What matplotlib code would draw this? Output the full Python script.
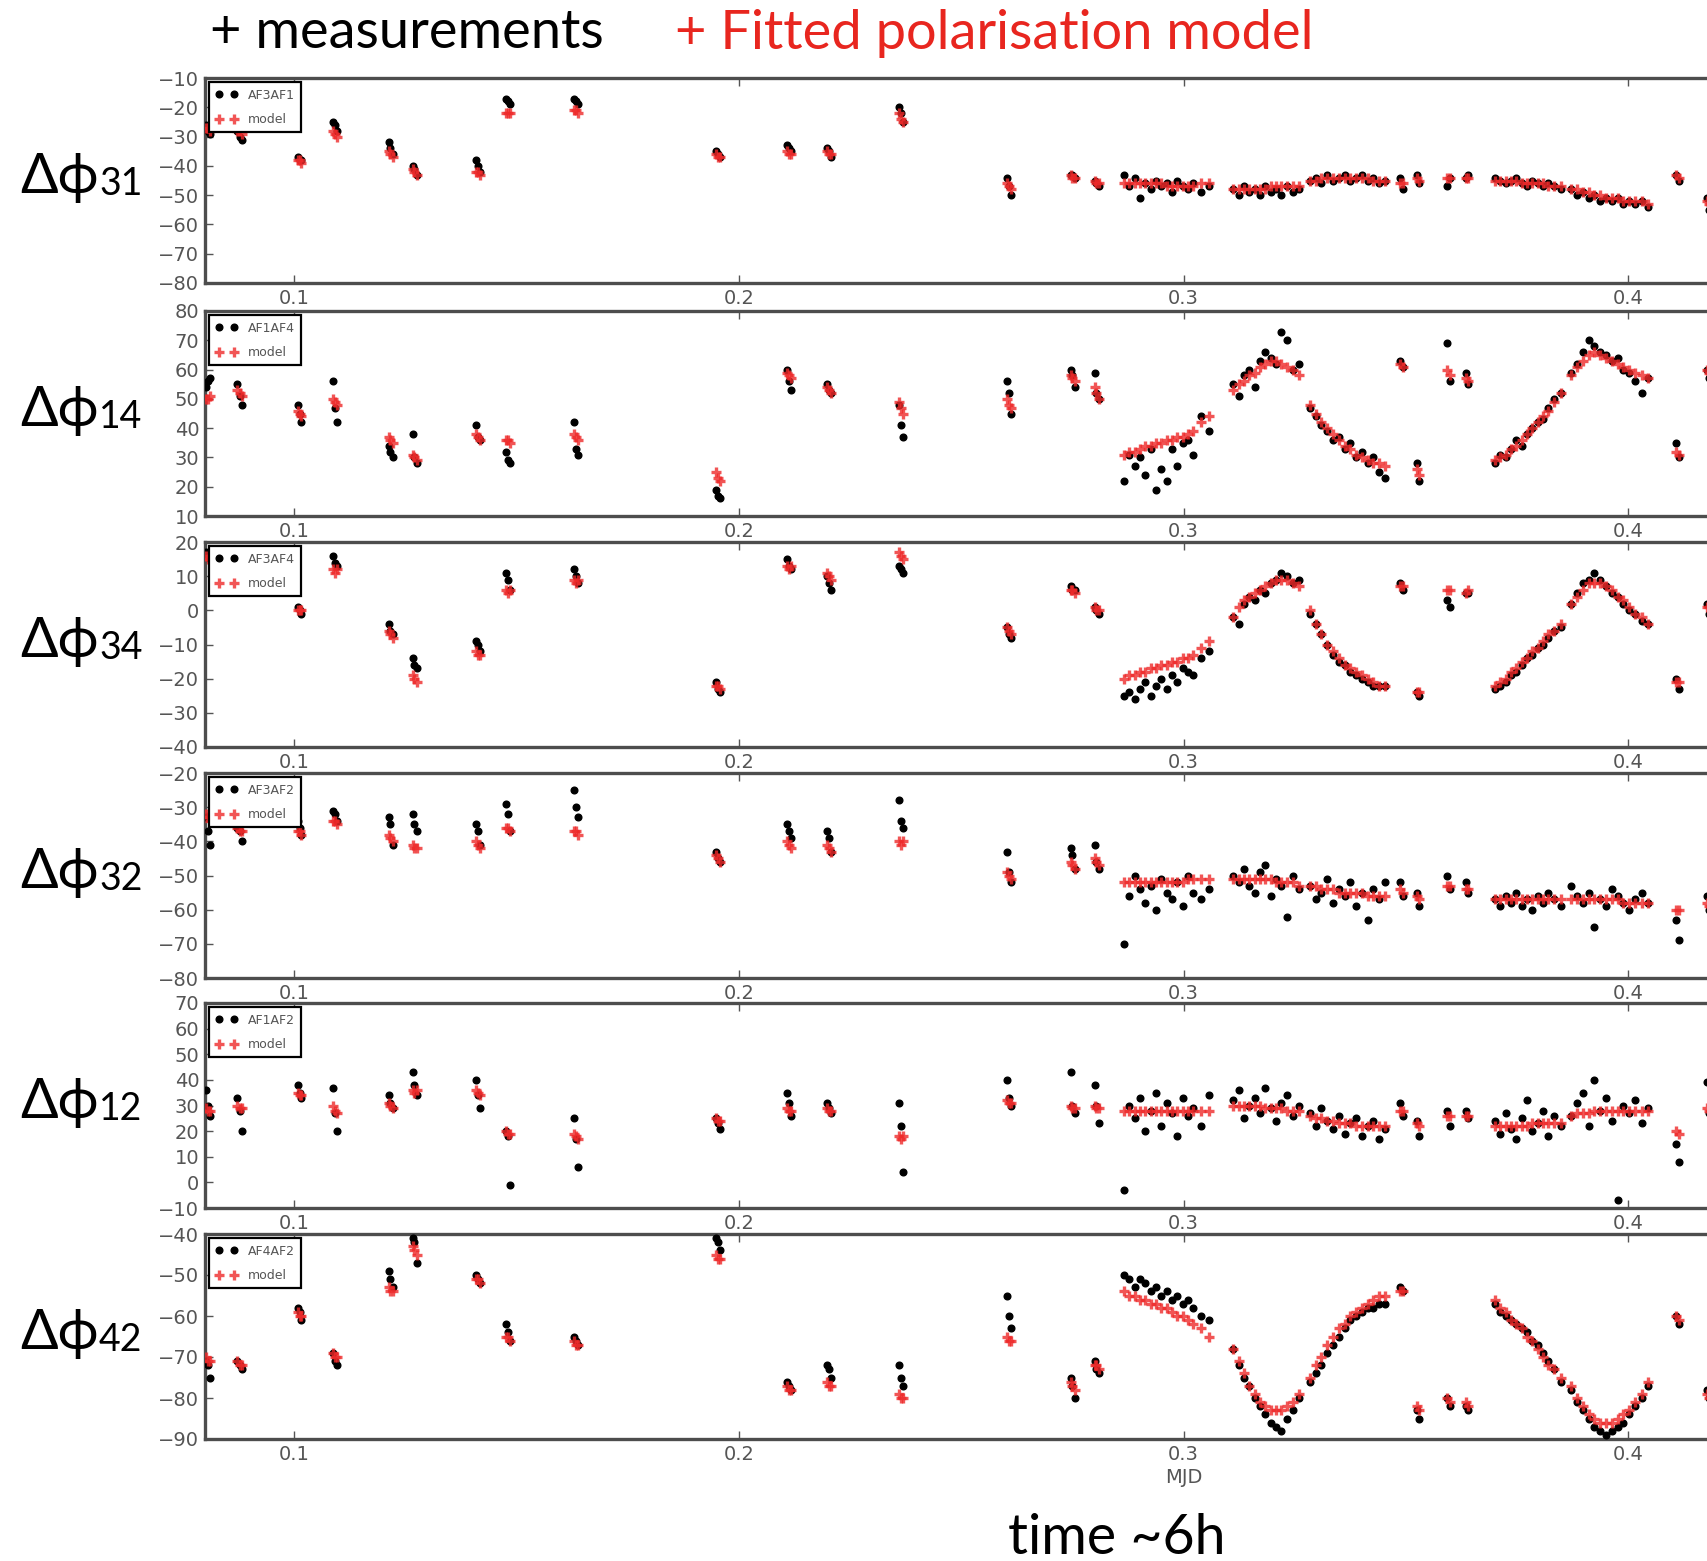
import matplotlib.pyplot as plt

# observation times (MJD fraction) - same epochs for every baseline
mjd = [0.0802, 0.0806, 0.0810, 0.0872, 0.0877, 0.0882, 0.1008, 0.1012, 0.1016, 0.1086, 0.1091, 0.1096,
       0.1212, 0.1216, 0.1221, 0.1266, 0.1270, 0.1275, 0.1408, 0.1412, 0.1417, 0.1477, 0.1481, 0.1486,
       0.1629, 0.1633, 0.1638, 0.1948, 0.1952, 0.1957, 0.2108, 0.2112, 0.2117, 0.2198, 0.2202, 0.2207,
       0.2360, 0.2364, 0.2369, 0.2603, 0.2607, 0.2612, 0.2746, 0.2750, 0.2755, 0.2800, 0.2804, 0.2809,
       0.2866, 0.2878, 0.2890, 0.2902, 0.2914, 0.2926, 0.2938, 0.2950, 0.2962, 0.2974, 0.2986, 0.2998,
       0.3010, 0.3022, 0.3040, 0.3058,
       0.3112, 0.3124, 0.3136, 0.3148, 0.3160, 0.3172, 0.3184, 0.3196, 0.3208, 0.3220, 0.3232, 0.3246, 0.3260,
       0.3284, 0.3297, 0.3310, 0.3323, 0.3336, 0.3349, 0.3362, 0.3375, 0.3388, 0.3401, 0.3414, 0.3427,
       0.3440, 0.3452,
       0.3487, 0.3493, 0.3524, 0.3530, 0.3592, 0.3598, 0.3634, 0.3640,
       0.3700, 0.3712, 0.3724, 0.3736, 0.3748, 0.3760, 0.3772, 0.3784, 0.3796, 0.3808, 0.3820, 0.3834, 0.3848,
       0.3872, 0.3885, 0.3898, 0.3911, 0.3924, 0.3937, 0.3950, 0.3963, 0.3976, 0.3989, 0.4002, 0.4015,
       0.4030, 0.4045,
       0.4108, 0.4114, 0.4176, 0.4182]

# dphi_31 (AF3AF1)
meas_31 = [-26, -28, -29, -28, -30, -31, -37, -38, -38, -25, -26, -28, -32, -34, -36, -40, -41, -43, -38, -40, -42, -17, -18, -19,
           -17, -18, -19, -35, -36, -37, -33, -34, -35, -34, -35, -37, -20, -22, -25, -44, -47, -50, -43, -43, -44, -45, -46, -47,
           -43, -47, -44, -51, -46, -48, -45, -47, -46, -49, -45, -47, -48, -46, -49, -47,
           -48, -50, -47, -49, -48, -50, -47, -49, -48, -50, -47, -49, -48,
           -45, -44, -46, -43, -45, -44, -43, -45, -44, -43, -45, -44, -46, -45,
           -44, -48, -43, -46, -47, -44, -44, -43,
           -44, -45, -46, -45, -44, -46, -47, -45, -46, -47, -46, -47, -48,
           -48, -50, -49, -51, -50, -52, -51, -52, -51, -53, -52, -53, -52, -54,
           -43, -45, -51, -55]
model_31 = [-27, -27, -28, -28, -28, -29, -38, -38, -39, -28, -29, -30, -35, -36, -37, -41, -42, -43, -42, -42, -43, -22, -22, -22,
            -21, -21, -22, -36, -37, -37, -35, -36, -36, -35, -36, -36, -22, -24, -25, -46, -47, -48, -43, -44, -44, -45, -46, -46,
            -46, -46, -46, -46, -46, -46, -46, -46, -47, -47, -47, -47, -47, -47, -46, -46,
            -48, -48, -48, -48, -48, -48, -48, -47, -47, -47, -47, -47, -47,
            -45, -45, -44, -44, -44, -44, -44, -44, -44, -44, -44, -45, -45, -45,
            -46, -46, -44, -45, -44, -44, -44, -44,
            -45, -45, -45, -45, -45, -46, -46, -46, -46, -46, -47, -47, -47,
            -48, -48, -49, -49, -50, -50, -51, -51, -51, -52, -52, -52, -52, -53,
            -43, -44, -52, -53]

# dphi_14 (AF1AF4)
meas_14 = [54, 56, 57, 55, 51, 48, 48, 45, 42, 56, 47, 42, 34, 32, 30, 38, 30, 28, 41, 37, 36, 32, 29, 28,
           42, 33, 31, 19, 17, 16, 60, 56, 53, 55, 53, 52, 48, 41, 37, 56, 52, 45, 60, 58, 54, 59, 52, 50,
           22, 31, 27, 30, 24, 33, 19, 26, 22, 33, 27, 35, 36, 31, 44, 39,
           55, 51, 58, 60, 54, 63, 66, 64, 62, 73, 70, 60, 62,
           47, 44, 41, 39, 36, 37, 33, 35, 30, 32, 28, 30, 25, 23,
           63, 61, 28, 22, 69, 56, 59, 55,
           28, 31, 30, 33, 36, 34, 38, 40, 42, 43, 47, 50, 52,
           59, 62, 66, 70, 68, 66, 65, 63, 64, 60, 59, 56, 52, 57,
           35, 30, 60, 57]
model_14 = [50, 50, 51, 53, 52, 51, 46, 45, 44, 50, 49, 48, 37, 36, 35, 31, 30, 29, 38, 37, 36, 36, 36, 35,
            38, 37, 36, 25, 23, 22, 59, 58, 57, 54, 53, 52, 49, 47, 45, 50, 48, 47, 58, 57, 56, 54, 52, 50,
            31, 32, 32, 33, 34, 34, 35, 35, 36, 36, 37, 37, 38, 39, 42, 44,
            53, 55, 56, 58, 59, 61, 62, 63, 63, 62, 61, 60, 58,
            48, 45, 42, 40, 38, 36, 34, 33, 31, 30, 29, 28, 28, 27,
            62, 61, 26, 24, 60, 58, 57, 56,
            29, 30, 31, 33, 34, 36, 38, 40, 42, 44, 46, 49, 52,
            58, 61, 63, 65, 66, 65, 64, 63, 62, 61, 60, 59, 58, 57,
            32, 31, 60, 59]

# dphi_34 (AF3AF4)
meas_34 = [17, 16, 15, 13, 12, 11, 1, 0, -1, 16, 14, 13, -4, -6, -7, -14, -16, -17, -9, -10, -12, 11, 9, 6,
           12, 10, 8, -21, -23, -24, 15, 13, 12, 10, 8, 6, 13, 12, 11, -5, -7, -8, 7, 6, 6, 1, 0, -1,
           -25, -24, -26, -23, -21, -25, -22, -20, -23, -19, -21, -17, -18, -19, -14, -12,
           -2, -4, 2, 4, 3, 6, 5, 8, 9, 11, 10, 8, 9,
           -1, -4, -7, -10, -13, -15, -16, -18, -19, -20, -21, -22, -22, -22,
           8, 6, -24, -25, 3, 1, 5, 5,
           -23, -22, -21, -19, -18, -16, -14, -13, -11, -10, -8, -6, -5,
           2, 5, 8, 9, 11, 9, 7, 5, 4, 2, 0, -1, -3, -4,
           -20, -23, 2, -1]
model_34 = [16, 15, 16, 12, 12, 12, 0, 0, 0, 12, 11, 12, -6, -7, -8, -19, -20, -21, -12, -13, -13, 6, 5, 6,
            9, 8, 9, -22, -22, -23, 13, 12, 13, 11, 10, 9, 17, 16, 15, -5, -6, -7, 6, 6, 5, 1, 0, 0,
            -20, -19, -19, -18, -18, -17, -17, -16, -16, -15, -15, -14, -14, -13, -11, -9,
            -2, 1, 3, 4, 5, 6, 7, 8, 9, 9, 9, 8, 7,
            0, -4, -7, -10, -12, -14, -16, -17, -18, -19, -20, -21, -22, -22,
            7, 7, -24, -24, 6, 6, 5, 6,
            -22, -21, -20, -18, -17, -15, -14, -12, -11, -9, -7, -6, -4,
            2, 4, 6, 8, 8, 8, 7, 6, 4, 3, 1, -1, -2, -4,
            -21, -21, 1, 1]

# dphi_32 (AF3AF2)
meas_32 = [-33, -37, -41, -36, -37, -40, -34, -36, -38, -31, -32, -34, -33, -35, -41, -32, -35, -37, -35, -37, -41, -29, -32, -37,
           -25, -30, -33, -43, -45, -46, -35, -37, -39, -37, -39, -43, -28, -34, -36, -43, -49, -52, -42, -44, -48, -41, -46, -48,
           -70, -56, -50, -54, -58, -53, -60, -51, -55, -57, -52, -59, -50, -55, -57, -54,
           -50, -52, -48, -53, -55, -49, -47, -56, -51, -53, -62, -50, -54,
           -53, -57, -55, -51, -58, -54, -56, -52, -59, -55, -63, -54, -57, -52,
           -52, -56, -55, -59, -50, -54, -52, -55,
           -57, -59, -56, -58, -55, -59, -57, -60, -56, -58, -55, -57, -59,
           -53, -56, -58, -55, -65, -57, -59, -54, -56, -58, -60, -57, -55, -58,
           -63, -69, -56, -60]
model_32 = [-32, -33, -34, -36, -37, -37, -37, -37, -38, -34, -34, -35, -38, -39, -40, -41, -42, -42, -40, -41, -42, -36, -36, -37,
            -37, -37, -38, -44, -45, -46, -40, -41, -42, -41, -42, -43, -40, -41, -40, -49, -50, -51, -46, -47, -48, -45, -46, -47,
            -52, -52, -52, -52, -52, -52, -52, -52, -52, -52, -52, -52, -51, -51, -51, -51,
            -51, -51, -51, -51, -51, -51, -51, -51, -52, -52, -52, -52, -53,
            -53, -53, -54, -54, -54, -55, -55, -55, -55, -55, -56, -56, -56, -56,
            -54, -55, -56, -57, -53, -53, -54, -54,
            -57, -57, -57, -57, -57, -57, -57, -57, -57, -57, -57, -57, -57,
            -57, -57, -57, -57, -57, -57, -57, -57, -57, -58, -58, -58, -58, -58,
            -60, -60, -58, -59]

# dphi_12 (AF1AF2)
meas_12 = [36, 30, 26, 33, 28, 20, 38, 35, 33, 37, 27, 20, 34, 31, 29, 43, 38, 34, 40, 34, 29, 20, 18, -1,
           25, 17, 6, 25, 23, 21, 35, 31, 26, 31, 29, 27, 31, 22, 4, 40, 33, 30, 43, 30, 27, 38, 30, 23,
           -3, 30, 25, 33, 20, 28, 35, 22, 31, 27, 18, 33, 26, 29, 22, 34,
           32, 36, 25, 30, 33, 27, 37, 29, 24, 31, 34, 26, 30,
           27, 22, 29, 24, 21, 26, 19, 23, 25, 18, 22, 24, 17, 21,
           31, 26, 24, 18, 28, 22, 28, 25,
           24, 19, 27, 21, 17, 25, 32, 20, 23, 28, 18, 26, 22,
           26, 31, 35, 22, 40, 28, 33, 24, -7, 30, 27, 32, 23, 29,
           15, 8, 39, 27]
model_12 = [29, 28, 28, 30, 29, 29, 35, 34, 34, 30, 28, 27, 31, 30, 29, 36, 35, 36, 36, 35, 34, 20, 19, 19,
            19, 18, 17, 25, 24, 24, 29, 28, 28, 29, 28, 28, 18, 17, 18, 32, 31, 31, 30, 29, 29, 30, 29, 29,
            28, 28, 28, 28, 28, 28, 28, 28, 28, 28, 28, 28, 28, 28, 28, 28,
            30, 30, 30, 30, 30, 30, 29, 29, 29, 29, 28, 28, 28,
            26, 25, 25, 24, 24, 23, 23, 23, 22, 22, 22, 22, 22, 22,
            28, 28, 23, 22, 26, 26, 26, 26,
            22, 22, 22, 22, 22, 22, 22, 23, 23, 23, 23, 23, 23,
            26, 27, 27, 27, 28, 28, 28, 28, 28, 28, 28, 28, 28, 28,
            20, 19, 29, 28]

# dphi_42 (AF4AF2)
meas_42 = [-71, -72, -75, -71, -72, -73, -58, -59, -61, -69, -71, -72, -49, -51, -53, -41, -42, -47, -50, -51, -52, -62, -64, -66,
           -65, -66, -67, -41, -42, -44, -76, -77, -78, -72, -73, -75, -72, -75, -77, -55, -60, -63, -75, -77, -80, -71, -73, -74,
           -50, -51, -53, -51, -52, -54, -53, -55, -54, -56, -55, -57, -56, -58, -60, -61,
           -68, -72, -75, -77, -80, -82, -84, -86, -87, -88, -85, -83, -80,
           -76, -74, -72, -69, -67, -65, -63, -61, -60, -59, -58, -58, -57, -57,
           -53, -54, -83, -85, -80, -82, -82, -83,
           -57, -59, -60, -61, -62, -63, -64, -66, -67, -69, -71, -73, -76,
           -78, -81, -83, -85, -87, -88, -89, -88, -87, -86, -84, -82, -80, -77,
           -60, -62, -78, -80]
model_42 = [-70, -71, -71, -71, -72, -72, -59, -60, -60, -69, -70, -70, -53, -54, -54, -43, -44, -45, -51, -51, -52, -65, -65, -66,
            -66, -67, -67, -45, -46, -46, -77, -78, -78, -76, -77, -77, -79, -80, -80, -65, -66, -66, -76, -77, -78, -72, -72, -73,
            -54, -55, -55, -56, -56, -57, -57, -58, -58, -59, -60, -60, -61, -62, -63, -65,
            -68, -71, -74, -77, -79, -81, -82, -83, -83, -83, -82, -81, -79,
            -75, -72, -70, -67, -65, -63, -62, -60, -59, -58, -57, -56, -55, -55,
            -54, -54, -82, -83, -80, -81, -81, -82,
            -56, -58, -59, -61, -62, -63, -65, -66, -68, -70, -72, -73, -75,
            -77, -80, -82, -84, -85, -86, -86, -86, -85, -84, -83, -81, -79, -76,
            -60, -61, -79, -80]

# (subscript, legend name, measured, model, y range)
panels = [
    ('31', 'AF3AF1', meas_31, model_31, (-80, -10)),
    ('14', 'AF1AF4', meas_14, model_14, (10, 80)),
    ('34', 'AF3AF4', meas_34, model_34, (-40, 20)),
    ('32', 'AF3AF2', meas_32, model_32, (-80, -20)),
    ('12', 'AF1AF2', meas_12, model_12, (-10, 70)),
    ('42', 'AF4AF2', meas_42, model_42, (-90, -40)),
]

W, H = 1708, 1561
fig = plt.figure(figsize=(W / 100, H / 100), dpi=100)
txt_font = ['Lato', 'DejaVu Sans']
grey = '#555555'

panel_tops = [78, 311, 542, 773, 1003, 1234]
panel_h = 205
left_px = 205

for (sub, name, meas, model, ylim), top in zip(panels, panel_tops):
    ax = fig.add_axes([left_px / W, 1 - (top + panel_h) / H, 1 - left_px / W + 0.002, panel_h / H])
    ax.plot(mjd, meas, 'o', color='black', ms=4.8, label=name, zorder=3)
    ax.plot(mjd, model, '+', color='#ee2a2a', ms=7.5, mew=2.4, alpha=0.8, label='model', zorder=4)

    ax.set_xlim(0.0799, 0.4187)
    ax.set_ylim(*ylim)
    ax.set_xticks([0.1, 0.2, 0.3, 0.4])
    ax.set_yticks(range(ylim[0], ylim[1] + 1, 10))
    ax.tick_params(direction='in', length=6, width=1, colors=grey, labelsize=14, top=True, pad=4)
    for s in ax.spines.values():
        s.set_color('#4d4d4d')
        s.set_linewidth(2.4)

    leg = ax.legend(loc='upper left', numpoints=2, fontsize=9, fancybox=False, edgecolor='black',
                    borderaxespad=0.35, borderpad=0.5, labelspacing=0.9, handlelength=1.8,
                    framealpha=1)
    leg.get_frame().set_linewidth(1.6)
    for t in leg.get_texts():
        t.set_color(grey)

    # panel label, e.g. delta-phi with subscript baseline
    yc = 1 - (top + panel_h / 2) / H + 0.002
    t1 = fig.text(0.012, yc, 'Δϕ', fontsize=40, va='center', family=txt_font)
    ax.annotate(sub, xy=(1.0, 0.02), xycoords=t1, fontsize=27, va='bottom', ha='left',
                family=txt_font, annotation_clip=False)

ax.set_xlabel('MJD', fontsize=14, color=grey, labelpad=3)
ax.xaxis.label.set_x((0.3 - 0.0799) / (0.4187 - 0.0799))

fig.text(210 / W, 1 - 33 / H, '+ measurements', fontsize=39, va='center', family=txt_font)
fig.text(675 / W, 1 - 33 / H, '+ Fitted polarisation model', fontsize=39, va='center',
         color='#e8261f', family=txt_font)
fig.text(1117 / W, 1 - 1538 / H, 'time ~6h', fontsize=40, va='center', ha='center', family=txt_font)

plt.savefig('out.png', dpi=100)
